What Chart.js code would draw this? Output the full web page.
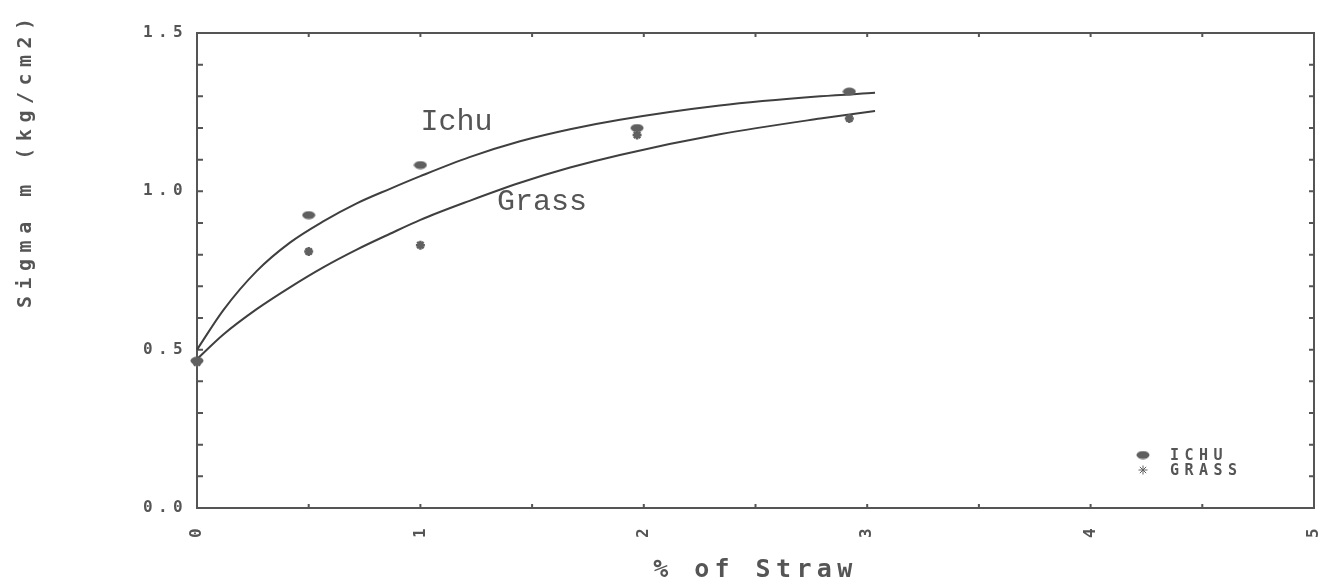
<!DOCTYPE html>
<html><head><meta charset="utf-8">
<script src="https://cdn.jsdelivr.net/npm/chart.js@4/dist/chart.umd.min.js"></script>
<style>html,body{margin:0;padding:0;background:#fff;}</style>
</head><body>
<canvas id="c" width="1326" height="583"></canvas>
<script>
// ---- data ----
const straw = [0, 0.5, 1, 1.97, 2.92];
const ichuValues = [0.465, 0.925, 1.083, 1.2, 1.315];
const grassValues = [0.46, 0.81, 0.83, 1.178, 1.23];
const fitX = [0, 0.118, 0.267, 0.416, 0.565, 0.715, 0.864, 1.0, 1.22, 1.446, 1.67, 1.893, 2.34, 2.79, 3.035];
const ichuFit = [0.50, 0.625, 0.748, 0.838, 0.905, 0.962, 1.008, 1.048, 1.108, 1.158, 1.196, 1.226, 1.271, 1.300, 1.311];
const grassFit = [0.47, 0.548, 0.628, 0.697, 0.76, 0.816, 0.866, 0.91, 0.97, 1.027, 1.075, 1.115, 1.18, 1.23, 1.254];
const xTickLabels = [0, 1, 2, 3, 4, 5];
const yTickLabels = [0.0, 0.5, 1.0, 1.5];
const seriesNames = ['ICHU', 'GRASS'];
const curveNames = ['Ichu', 'Grass'];
const xTitle = '% of Straw';
const yTitle = 'Sigma m (kg/cm2)';

// ---- styling / placement ----
const curveLabelAnchor = [[1.0, 1.193], [1.343, 0.941]];
const INK = '#555';
const LINE = '#3f3f3f';
const MARK = '#606060';

const ellipseImg = (() => {
  const c = document.createElement('canvas');
  c.width = 14; c.height = 9;
  const g = c.getContext('2d');
  g.fillStyle = MARK;
  g.beginPath(); g.ellipse(7, 4.5, 6.5, 4, 0, 0, Math.PI * 2); g.fill();
  return c;
})();

const pts = (xs, ys) => xs.map((x, i) => ({x, y: ys[i]}));

const framePlugin = {
  id: 'frame',
  beforeDraw(chart) { chart.ctx.letterSpacing = '5.4px'; },
  beforeDatasetsDraw(chart) {
    const {ctx, chartArea: a, scales: {x, y}} = chart;
    ctx.save();
    ctx.strokeStyle = INK; ctx.lineWidth = 2;
    ctx.strokeRect(a.left, a.top, a.right - a.left, a.bottom - a.top);
    ctx.beginPath();
    x.ticks.forEach(t => {
      const px = x.getPixelForValue(t.value);
      ctx.moveTo(px, a.top); ctx.lineTo(px, a.top + 4);
      ctx.moveTo(px, a.bottom); ctx.lineTo(px, a.bottom - 4);
    });
    y.ticks.forEach(t => {
      const py = y.getPixelForValue(t.value);
      ctx.moveTo(a.left, py); ctx.lineTo(a.left + 6, py);
      ctx.moveTo(a.right, py); ctx.lineTo(a.right - 5, py);
    });
    ctx.stroke();
    ctx.restore();
  },
  afterDraw(chart) {
    const {ctx, chartArea: a, scales: {x, y}} = chart;
    ctx.save();
    // curve labels
    ctx.letterSpacing = '0px';
    ctx.fillStyle = INK;
    ctx.font = '30px "Liberation Mono"';
    ctx.textAlign = 'left'; ctx.textBaseline = 'alphabetic';
    curveNames.forEach((n, i) => {
      ctx.fillText(n, x.getPixelForValue(curveLabelAnchor[i][0]), y.getPixelForValue(curveLabelAnchor[i][1]));
    });
    // y title
    ctx.save();
    ctx.letterSpacing = '6.5px';
    ctx.font = 'bold 20px "DejaVu Sans Mono"';
    ctx.fillStyle = INK;
    ctx.translate(26, 308);
    ctx.rotate(-Math.PI / 2);
    ctx.textAlign = 'left'; ctx.textBaseline = 'middle';
    ctx.fillText(yTitle, 0, 0);
    ctx.restore();
    // legend
    ctx.letterSpacing = '5.5px';
    ctx.font = 'bold 15px "DejaVu Sans Mono"';
    ctx.textBaseline = 'middle';
    [0, 1].forEach(i => {
      const ds = chart.data.datasets[i];
      const yy = a.bottom - 53 + i * 15;
      Chart.helpers.drawPoint(ctx, {pointStyle: ds.pointStyle, radius: ds.pointRadius, borderWidth: ds.borderWidth, rotation: 0}, a.right - 171, yy);
      ctx.fillStyle = INK;
      ctx.fillText(ds.label, a.right - 144, yy + 1);
    });
    ctx.restore();
  }
};

new Chart(document.getElementById('c'), {
  type: 'scatter',
  data: {
    datasets: [
      {label: seriesNames[0], data: pts(straw, ichuValues), pointStyle: ellipseImg, pointRadius: 6, backgroundColor: MARK, borderColor: MARK, borderWidth: 1, clip: false},
      {label: seriesNames[1], data: pts(straw, grassValues), pointStyle: 'star', pointRadius: 4.5, backgroundColor: MARK, borderColor: MARK, borderWidth: 2.5, clip: false},
      {label: curveNames[0], data: pts(fitX, ichuFit), showLine: true, pointRadius: 0, borderColor: LINE, borderWidth: 2, cubicInterpolationMode: 'monotone', fill: false, clip: false},
      {label: curveNames[1], data: pts(fitX, grassFit), showLine: true, pointRadius: 0, borderColor: LINE, borderWidth: 2, cubicInterpolationMode: 'monotone', fill: false, clip: false}
    ]
  },
  options: {
    responsive: false,
    animation: false,
    devicePixelRatio: 1,
    layout: {autoPadding: false, padding: {top: 33, right: 12, left: 0, bottom: 0}},
    plugins: {legend: {display: false}, tooltip: {enabled: false}},
    scales: {
      x: {
        type: 'linear', min: 0, max: 5,
        grid: {display: false}, border: {display: false},
        ticks: {
          stepSize: 0.5, autoSkip: false, minRotation: 90, maxRotation: 90, padding: 7,
          color: INK, font: {family: 'DejaVu Sans Mono', size: 16, weight: 'bold'},
          callback: v => { const r = Math.round(v); return (Math.abs(v - r) < 1e-6 && xTickLabels.includes(r)) ? String(r) : ''; }
        },
        title: {display: true, text: xTitle, color: INK, font: {family: 'DejaVu Sans Mono', size: 25, weight: 'bold', lineHeight: 1}, padding: 0},
        afterFit: s => { s.height = 75; s.paddingLeft = 0; s.paddingRight = 0; }
      },
      y: {
        type: 'linear', min: 0, max: 1.5,
        grid: {display: false}, border: {display: false},
        ticks: {
          stepSize: 0.1, autoSkip: false, padding: 1,
          color: INK, font: {family: 'DejaVu Sans Mono', size: 16, weight: 'bold'},
          callback: v => { const r = yTickLabels.find(t => Math.abs(t - v) < 1e-6); return r === undefined ? '' : r.toFixed(1); }
        },
        afterFit: s => { s.width = 197; s.paddingTop = 0; s.paddingBottom = 0; }
      }
    }
  },
  plugins: [framePlugin]
});
</script>
</body></html>
